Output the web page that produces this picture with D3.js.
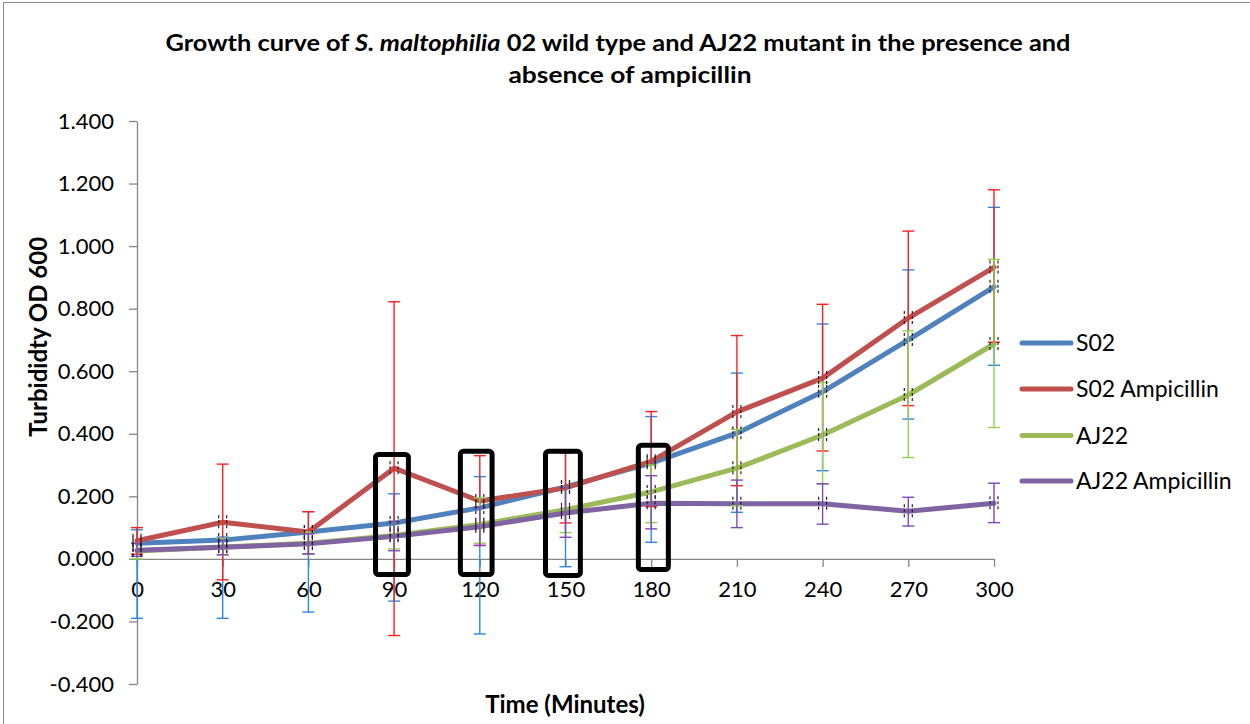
<!DOCTYPE html>
<html><head><meta charset="utf-8">
<script src="https://cdn.jsdelivr.net/npm/d3@7"></script>
<style>
html,body{margin:0;padding:0;background:#fff;}
svg{display:block;font-family:Lato,"Open Sans",sans-serif;}
</style></head>
<body><svg id="c" width="1250" height="724"></svg>
<script>
// ---- data ----
const times = [0,30,60,90,120,150,180,210,240,270,300];
const tickLabelsY = [-0.4,-0.2,0,0.2,0.4,0.6,0.8,1.0,1.2,1.4];
const seriesNames = ["S02","S02 Ampicillin","AJ22","AJ22 Ampicillin"];
const s02     = [0.050,0.060,0.086,0.115,0.163,0.230,0.306,0.402,0.534,0.700,0.870];
const s02Amp  = [0.058,0.117,0.086,0.290,0.185,0.227,0.312,0.470,0.578,0.770,0.932];
const aj22    = [0.025,0.038,0.050,0.075,0.110,0.157,0.214,0.290,0.396,0.524,0.687];
const aj22Amp = [0.028,0.037,0.048,0.072,0.103,0.147,0.178,0.176,0.176,0.152,0.178];
// error bar ends (low / high)
const s02Low     = [-0.190,-0.190,-0.170,-0.135,-0.240,-0.025,0.053,0.149,0.282,0.447,0.619];
const s02High    = [0.093,0.070,0.151,0.208,0.263,0.340,0.455,0.594,0.751,0.924,1.124];
const s02AmpLow  = [0.015,-0.067,0.016,-0.245,0.043,0.115,0.167,0.234,0.345,0.490,0.693];
const s02AmpHigh = [0.100,0.303,0.151,0.822,0.330,0.339,0.471,0.714,0.814,1.048,1.180];
const aj22Low    = [0.000,0.013,0.016,0.032,0.050,0.084,0.116,0.170,0.240,0.324,0.420];
const aj22High   = [0.050,0.065,0.085,0.120,0.195,0.231,0.300,0.414,0.564,0.729,0.958];
const aj22AmpLow = [0.008,0.013,0.016,0.026,0.043,0.069,0.096,0.100,0.111,0.105,0.116];
const aj22AmpHigh= [0.050,0.060,0.080,0.120,0.165,0.230,0.266,0.252,0.240,0.197,0.242];
// highlighted boxes (minutes / OD)
const boxLeft   = [83.5,113.2,143.0,175.5];
const boxRight  = [95.0,124.3,155.2,186.0];
const boxTop    = [0.334,0.344,0.344,0.363];
const boxBottom = [-0.050,-0.050,-0.053,-0.034];

const lineColors = ["#4f81bd","#c0504d","#9bbb59","#8064a2"];
const errColors  = ["#2a8ae0","#ff2020","#92d050","#7f48b8"];

const series = [
  {name:seriesNames[0], v:s02, lo:s02Low, hi:s02High},
  {name:seriesNames[1], v:s02Amp, lo:s02AmpLow, hi:s02AmpHigh},
  {name:seriesNames[2], v:aj22, lo:aj22Low, hi:aj22High},
  {name:seriesNames[3], v:aj22Amp, lo:aj22AmpLow, hi:aj22AmpHigh}
];

const svg = d3.select("#c");
const x = d3.scaleLinear().domain([0,300]).range([137,994]);
const y = d3.scaleLinear().domain([-0.4,1.4]).range([684,121]);
const loc = d3.formatLocale({decimal:".",thousands:",",grouping:[3],currency:["",""],minus:"-"});
const fmt = loc.format(".3f");

// outer border
svg.append("rect").attr("x",3.5).attr("y",2.5).attr("width",1262).attr("height",740)
  .attr("fill","none").attr("stroke","#8c8c8c").attr("stroke-width",1);

// title
const title = svg.append("text").attr("x",618).attr("y",51).attr("text-anchor","middle")
  .attr("font-weight","bold").attr("font-size",23).attr("fill","#000")
  .attr("textLength",905).attr("lengthAdjust","spacingAndGlyphs");
title.append("tspan").text("Growth curve of ");
title.append("tspan").attr("font-style","italic").text("S. maltophilia");
title.append("tspan").text(" 02 wild type and  AJ22 mutant in the presence and");
svg.append("text").attr("x",630).attr("y",83).attr("text-anchor","middle")
  .attr("font-weight","bold").attr("font-size",23)
  .attr("textLength",243).attr("lengthAdjust","spacingAndGlyphs").text("absence of ampicillin");

// y axis
const yAxis = svg.append("g").attr("transform",`translate(${x(0)},0)`)
  .call(d3.axisLeft(y).tickValues(tickLabelsY).tickFormat(fmt).tickSize(8).tickPadding(15).tickSizeOuter(0));
yAxis.select(".domain").attr("stroke","#868686").attr("stroke-width",1.3);
yAxis.selectAll(".tick line").attr("stroke","#868686").attr("stroke-width",1.3);
yAxis.selectAll(".tick text").attr("font-size",22).attr("fill","#000").attr("font-family","Lato");

// x axis at zero
const xAxis = svg.append("g").attr("transform",`translate(0,${y(0)})`)
  .call(d3.axisBottom(x).tickValues(times).tickFormat(d3.format("d")).tickSize(8).tickPadding(15).tickSizeOuter(0));
xAxis.select(".domain").attr("stroke","#868686").attr("stroke-width",1.3);
xAxis.selectAll(".tick line").attr("stroke","#868686").attr("stroke-width",1.3);
xAxis.selectAll(".tick text").attr("font-size",22).attr("fill","#000").attr("font-family","Lato");

// axis titles
svg.append("text").attr("transform",`translate(39,${y(0.71)}) rotate(-90)`)
  .attr("text-anchor","middle").attr("dy","0.35em").attr("font-weight","bold").attr("font-size",24)
  .text("Turbididty OD 600");
svg.append("text").attr("x",565).attr("y",713).attr("text-anchor","middle")
  .attr("font-weight","bold").attr("font-size",24).text("Time (Minutes)");

// lines
const line = d3.line().x((d,i)=>x(times[i])).y(d=>y(d));
series.forEach((s,k)=>{
  svg.append("path").datum(s.v).attr("d",line).attr("fill","none")
    .attr("stroke",lineColors[k]).attr("stroke-width",5)
    .attr("stroke-linejoin","round").attr("stroke-linecap","round");
});

// error bars
series.forEach((s,k)=>{
  const g = svg.append("g").attr("stroke",errColors[k]).attr("stroke-width",1.4);
  times.forEach((t,i)=>{
    const cx = x(t);
    g.append("line").attr("x1",cx).attr("x2",cx).attr("y1",y(s.lo[i])).attr("y2",y(s.hi[i]));
    [s.lo[i],s.hi[i]].forEach(v=>{
      g.append("line").attr("x1",cx-6).attr("x2",cx+6).attr("y1",y(v)).attr("y2",y(v));
    });
  });
});

// small black x-error marks at each point
series.forEach((s,k)=>{
  const g = svg.append("g").attr("stroke","#222").attr("stroke-width",1.2).attr("stroke-dasharray","3,2");
  times.forEach((t,i)=>{
    const cx = x(t), cy = y(s.v[i]);
    [-4,4].forEach(dx=>{
      g.append("line").attr("x1",cx+dx).attr("x2",cx+dx).attr("y1",cy-7).attr("y2",cy+7);
    });
  });
});

// highlight boxes
boxLeft.forEach((l,i)=>{
  svg.append("rect").attr("x",x(l)).attr("y",y(boxTop[i]))
    .attr("width",x(boxRight[i])-x(l)).attr("height",y(boxBottom[i])-y(boxTop[i]))
    .attr("rx",3).attr("fill","none").attr("stroke","#000").attr("stroke-width",5);
});

// legend
const legY = [343,389,435.5,481];
series.forEach((s,k)=>{
  svg.append("line").attr("x1",1022).attr("x2",1071).attr("y1",legY[k]).attr("y2",legY[k])
    .attr("stroke",lineColors[k]).attr("stroke-width",5).attr("stroke-linecap","round");
  svg.append("text").attr("x",1076).attr("y",legY[k]).attr("dy","0.36em")
    .attr("font-size",23).attr("fill","#000").text(s.name);
});
</script></body></html>
